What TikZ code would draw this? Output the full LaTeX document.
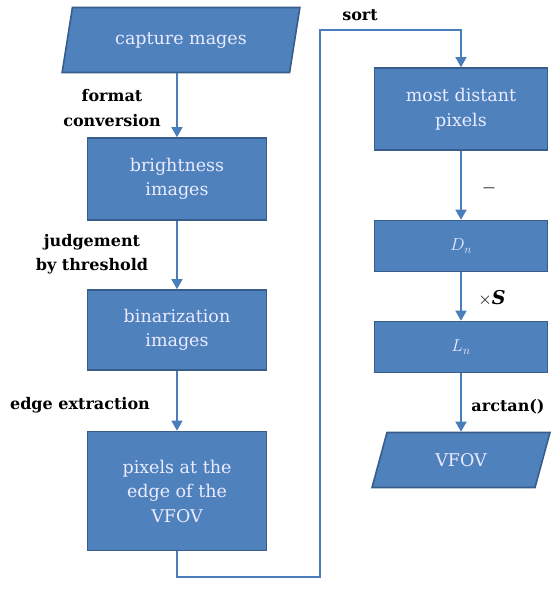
\documentclass[tikz,border=0pt]{standalone}
\usepackage{fontspec}
\setmainfont{DejaVu Serif}
\usepackage{tikz}
\usetikzlibrary{arrows.meta, positioning, shapes.geometric}

\definecolor{boxblue}{HTML}{4F81BD}
\definecolor{boxedge}{HTML}{385D8A}
\definecolor{lineblue}{HTML}{4A7EBB}

\begin{document}
\begin{tikzpicture}[x=1pt, y=-1pt,
    proc/.style={draw=boxedge, line width=1.6pt, fill=boxblue, text=white!92!blue, align=center,
                 font=\fontsize{17.5}{24.5}\selectfont, minimum width=179pt, inner sep=2pt},
    iobox/.style={proc, trapezium, trapezium left angle=72, trapezium right angle=108,
                  trapezium stretches=true},
    arr/.style={draw=lineblue, line width=1.5pt, -{Triangle[width=11pt,length=10pt]}},
    lbl/.style={font=\fontsize{16}{24.5}\selectfont\bfseries, align=center}
]
\useasboundingbox (0,0) rectangle (555,593);

% Left column
\node[iobox, minimum width=238pt, minimum height=65pt] (cap) at (181,40) {capture mages};
\node[proc, minimum height=82pt] (bri) at (177,179) {brightness\\images};
\node[proc, minimum height=80pt] (bin) at (177,330) {binarization\\images};
\node[proc, minimum height=119pt] (pix) at (177,491) {pixels at the\\edge of the\\VFOV};

% Right column
\node[proc, minimum width=173pt, minimum height=82pt] (mdp) at (461,109) {most distant\\pixels};
\node[proc, minimum width=173pt, minimum height=51pt] (dn) at (461,246) {$D_n$};
\node[proc, minimum width=173pt, minimum height=51pt] (ln) at (461,347) {$L_n$};
\node[iobox, minimum width=178pt, minimum height=55pt] (vfov) at (461,460) {VFOV};

% Connections
\draw[arr] (cap.south -| bri.north) -- (bri.north);
\draw[arr] (bri) -- (bin);
\draw[arr] (bin) -- (pix);
\coordinate (lowturn) at (320,577);
\coordinate (topturn) at (320,30);
\draw[arr] (pix.south) |- (lowturn) -- (topturn) -| (mdp.north);
\draw[arr] (mdp) -- (dn);
\draw[arr] (dn) -- (ln);
\draw[arr] (ln.south) -- (vfov.north -| ln.south);

% Labels
\node[lbl] (fc) at (112,108) {format\\conversion};
\node[lbl] (jt) at (92,254) {judgement\\by threshold};
\node[lbl] (ee) at (80,405) {edge extraction};
\node[lbl] (so) at (360,15) {sort};
\node[lbl, font=\fontsize{12}{14}\selectfont] (mi) at (489,190) {\textemdash};
\node[lbl, font=\fontsize{19}{22}\selectfont\bfseries] (ms) at (492,298) {$\times$\textit{S}};
\node[lbl] (at) at (508,407) {arctan()};

\end{tikzpicture}
\end{document}
